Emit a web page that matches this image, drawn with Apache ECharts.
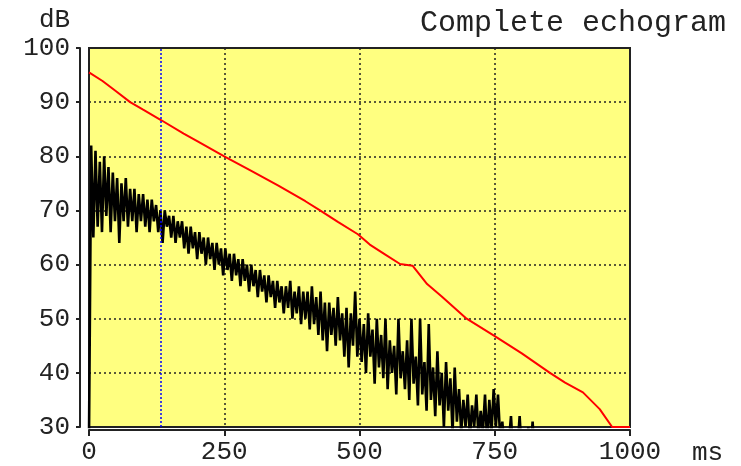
<!DOCTYPE html>
<html>
<head>
<meta charset="utf-8">
<script src="https://cdn.jsdelivr.net/npm/echarts@6/dist/echarts.min.js"></script>
<style>
  html, body { margin: 0; padding: 0; background: #fff; }
  #main { width: 741px; height: 466px; }
</style>
</head>
<body>
<div id="main"></div>
<script>
// backward integrated decay (red)
var decayMs = [0, 25, 50, 76, 100, 133, 175, 200, 250, 300, 350, 400, 427, 460, 497, 519, 547, 575, 598, 625, 652, 698, 750, 800, 852, 880, 913, 944, 967, 1000];
var decayDb = [95.5, 93.9, 92.0, 90.0, 88.6, 86.7, 84.2, 82.8, 80.0, 77.3, 74.6, 71.7, 70.0, 67.9, 65.6, 63.7, 61.9, 60.1, 59.8, 56.4, 54.1, 50.0, 46.8, 43.6, 40.0, 38.2, 36.4, 33.3, 30.0, 30.0];

// raw echogram (black), one sample every 4 ms starting at 0 ms (10 samples per row)
var echoStepMs = 4;
var echoDb = [
  28, 82, 65, 81, 67, 79, 66, 80, 69, 78,
  66, 77, 68, 76, 64, 75, 68, 76, 67, 74,
  68, 74, 66, 73, 68, 73, 67, 72, 66, 72,
  68, 71, 66, 70, 64, 70, 67, 69, 65, 69,
  64, 68, 65, 68, 63, 67, 62, 67, 63, 66,
  61, 66, 62, 65, 60, 65, 61, 64, 59, 64,
  60, 63, 58, 63, 59, 62, 57, 62, 58, 61,
  56, 61, 57, 60, 55, 60, 56, 59, 54, 59,
  55, 58, 53, 58, 54, 57, 52, 57, 53, 56,
  51, 56, 52, 57, 50, 55, 51, 56, 49, 55,
  50, 55, 48, 56, 49, 54, 47, 55, 46, 53,
  44, 53, 47, 52, 45, 54, 46, 51, 43, 52,
  41, 51, 45, 55, 43, 50, 42, 49, 40, 51,
  43, 48, 38, 50, 41, 47, 39, 50, 37, 46,
  40, 45, 36, 50, 39, 44, 37, 46, 35, 50,
  38, 43, 34, 50, 36, 42, 33, 49, 35, 41,
  32, 44, 34, 40, 30, 42, 33, 39, 29, 41,
  31, 37, 29, 35, 30, 36, 28, 34, 30, 36,
  28, 33, 29, 36, 27, 35, 29, 37, 30, 36,
  28, 31, 26, 29, 27, 32, 25, 28, 26, 32,
  25, 28, 24, 30, 25, 31, 24, 27, 24
];
var markerMs = 133;

var xTicks = { min: 0, max: 1000, step: 250 };
var yTicks = { min: 30, max: 100, step: 10 };

var echoData = [];
for (var i = 0; i < echoDb.length; i++) {
  echoData.push([i * echoStepMs, echoDb[i]]);
}
var decayData = [];
for (var j = 0; j < decayMs.length; j++) {
  decayData.push([decayMs[j], decayDb[j]]);
}

var monoFont = '"Liberation Mono", "DejaVu Sans Mono", monospace';
var dotted = { color: '#222', width: 1.5, type: [2, 3] };

var chart = echarts.init(document.getElementById('main'));
chart.setOption({
  backgroundColor: '#ffffff',
  animation: false,
  title: [
    {
      text: 'Complete echogram',
      right: 10, top: 3,
      textStyle: { fontFamily: monoFont, fontSize: 30, fontWeight: 'normal', color: '#222' }
    },
    {
      text: 'dB',
      left: 34, top: 2,
      textStyle: { fontFamily: monoFont, fontSize: 26, fontWeight: 'normal', color: '#222' }
    }
  ],
  grid: {
    left: 89, top: 48, width: 541, height: 380,
    show: true,
    backgroundColor: '#ffff80',
    borderColor: '#222',
    borderWidth: 2
  },
  xAxis: {
    type: 'value',
    min: xTicks.min, max: xTicks.max, interval: xTicks.step,
    offset: 3,
    name: 'ms',
    nameLocation: 'end',
    nameGap: 62,
    nameTextStyle: { fontFamily: monoFont, fontSize: 26, color: '#222', align: 'left', verticalAlign: 'top', padding: [10, 0, 0, 0] },
    axisLine: { show: true, onZero: false, lineStyle: { color: '#222', width: 2 } },
    axisTick: { show: true, length: 6, lineStyle: { color: '#222', width: 2 } },
    axisLabel: {
      fontFamily: monoFont, fontSize: 26, color: '#222', margin: 9,
      formatter: function (v) { return String(v); }
    },
    splitLine: { show: true, lineStyle: dotted }
  },
  yAxis: {
    type: 'value',
    min: yTicks.min, max: yTicks.max, interval: yTicks.step,
    offset: 9,
    axisLine: { show: true, onZero: false, lineStyle: { color: '#222', width: 2 } },
    axisTick: { show: true, length: 4, lineStyle: { color: '#222', width: 2 } },
    axisLabel: { fontFamily: monoFont, fontSize: 26, color: '#222', margin: 10 },
    splitLine: { show: true, lineStyle: dotted }
  },
  series: [
    {
      name: 'echogram',
      type: 'line',
      data: echoData,
      showSymbol: false,
      clip: true,
      lineStyle: { color: '#000', width: 2.6 },
      markLine: {
        silent: true,
        symbol: 'none',
        label: { show: false },
        lineStyle: { color: '#0000ff', width: 1.5, type: [2, 2] },
        data: [{ xAxis: markerMs }]
      },
      z: 3
    },
    {
      name: 'decay',
      type: 'line',
      data: decayData,
      showSymbol: false,
      clip: true,
      lineStyle: { color: '#ff0000', width: 2 },
      z: 4
    }
  ]
});
</script>
</body>
</html>
